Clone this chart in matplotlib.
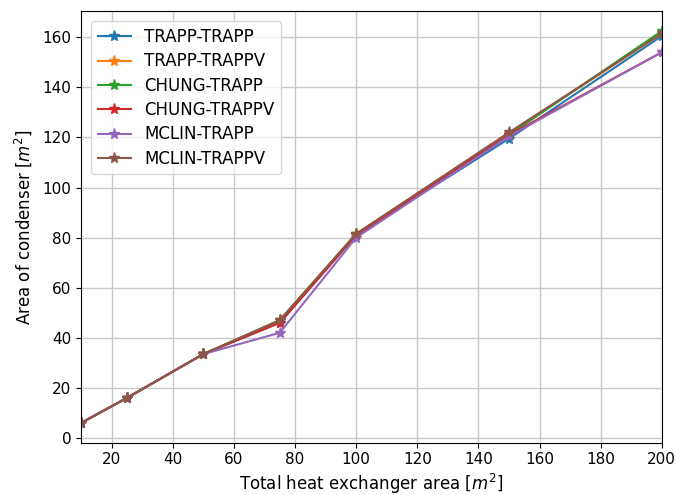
import numpy as np
import matplotlib
matplotlib.use('Agg')
import matplotlib.pyplot as plt

# total heat exchanger area [m^2]
area_total = [10, 25, 50, 75, 100, 150, 200]

labels = ['TRAPP-TRAPP', 'TRAPP-TRAPPV', 'CHUNG-TRAPP',
          'CHUNG-TRAPPV', 'MCLIN-TRAPP', 'MCLIN-TRAPPV']

trapp_trapp   = [6.0, 16.0, 33.5, 46.0, 81.0, 119.5, 160.5]
trapp_trappv  = [6.0, 16.0, 33.5, 47.0, 81.5, 121.5, 161.5]
chung_trapp   = [6.0, 16.0, 33.5, 47.0, 81.5, 121.0, 162.5]
chung_trappv  = [6.0, 16.0, 33.5, 46.0, 81.0, 121.0, 154.0]
mclin_trapp   = [6.0, 16.0, 33.5, 42.0, 80.0, 120.5, 154.0]
mclin_trappv  = [6.0, 16.0, 33.5, 47.0, 81.5, 122.0, 161.5]

series = [trapp_trapp, trapp_trappv, chung_trapp, chung_trappv, mclin_trapp, mclin_trappv]

fig, ax = plt.subplots(figsize=(6.76, 4.95), dpi=100)
fig.subplots_adjust(left=0.12, right=0.979, top=0.977, bottom=0.106)

for lab, vals in zip(labels, series):
    ax.plot(area_total, vals, '-*', label=lab, linewidth=1.5, markersize=8)

ax.set_xlim(10, 200)
ax.set_xticks(np.arange(20, 201, 20))
ax.set_yticks(np.arange(0, 161, 20))
ax.grid(True, color='#c8c8c8', linewidth=1)
ax.set_xlabel('Total heat exchanger area [$m^2$]', fontsize=12, labelpad=3)
ax.set_ylabel('Area of condenser [$m^2$]', fontsize=12, labelpad=6)
ax.tick_params(labelsize=11)
ax.legend(loc='upper left', fontsize=12, labelspacing=0.38, borderaxespad=0.6)

fig.savefig('out.png', dpi=100)
